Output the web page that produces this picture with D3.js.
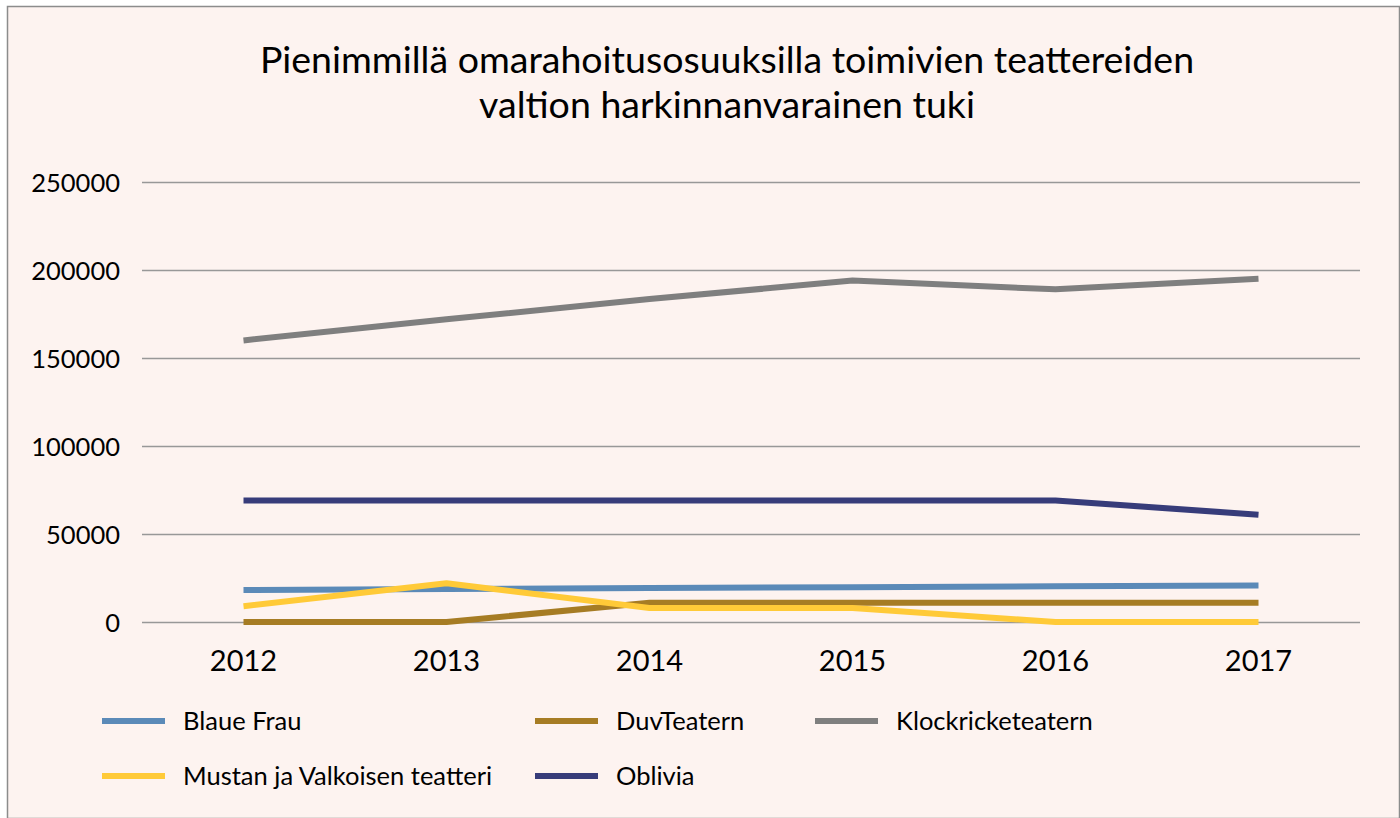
<!DOCTYPE html>
<html>
<head>
<meta charset="utf-8">
<script src="https://cdn.jsdelivr.net/npm/d3@7"></script>
<style>
  body { margin: 0; background: #fff; }
  svg { display: block; }
  text { font-family: Lato, "Open Sans", sans-serif; fill: #000; }
</style>
</head>
<body>
<script>
// data
var years = ["2012", "2013", "2014", "2015", "2016", "2017"];
var seriesNames = ["Blaue Frau", "DuvTeatern", "Klockricketeatern", "Mustan ja Valkoisen teatteri", "Oblivia"];
var blaueFrau = [18200, 18800, 19300, 19800, 20300, 20800];
var duvTeatern = [0, 0, 11000, 11000, 11000, 11000];
var klockricketeatern = [160000, 172000, 183500, 194000, 189000, 195000];
var mustanJaValkoisen = [9000, 22000, 8000, 8000, 0, 0];
var oblivia = [69000, 69000, 69000, 69000, 69000, 61000];
var yTicks = [0, 50000, 100000, 150000, 200000, 250000];
var titleLines = ["Pienimmillä omarahoitusosuuksilla toimivien teattereiden", "valtion harkinnanvarainen tuki"];

var colors = ["#5b8ab8", "#a67c24", "#7f7f7f", "#ffca38", "#373c7a"];
var allValues = [blaueFrau, duvTeatern, klockricketeatern, mustanJaValkoisen, oblivia];

var W = 1400, H = 818;
var plot = {left: 142, right: 1360, top: 182, bottom: 622};

var svg = d3.select("body").append("svg")
    .attr("width", W)
    .attr("height", H);

// background + border
svg.append("rect")
    .attr("x", 7.5).attr("y", 6.5)
    .attr("width", W - 8).attr("height", H - 6)
    .attr("fill", "#fdf3f0")
    .attr("stroke", "#8c8c8c")
    .attr("stroke-width", 1.5);

// title
svg.append("text")
    .attr("text-anchor", "middle")
    .style("font-size", "37.5px")
    .selectAll("tspan")
    .data(titleLines)
  .enter().append("tspan")
    .attr("x", 727)
    .attr("y", function(d, i) { return 73 + i * 45; })
    .text(function(d) { return d; });

// scales
var x = d3.scaleBand()
    .domain(years)
    .range([plot.left, plot.right]);

var y = d3.scaleLinear()
    .domain([0, 250000])
    .range([plot.bottom, plot.top]);

// gridlines + y labels
var yAxis = d3.axisLeft(y)
    .tickValues(yTicks)
    .tickSize(-(plot.right - plot.left))
    .tickPadding(22)
    .tickFormat(d3.format("d"));

var gy = svg.append("g")
    .attr("transform", "translate(" + plot.left + ",0)")
    .call(yAxis);
gy.select(".domain").remove();
gy.selectAll(".tick line")
    .attr("stroke", "#989898")
    .attr("stroke-width", 1.5);
gy.selectAll(".tick text")
    .style("font-size", "25.5px")
    .style("font-family", "Lato, sans-serif")
    .attr("fill", "#000")
    .attr("dy", "0.38em");

// x labels
var xAxis = d3.axisBottom(x).tickSize(0).tickPadding(28);
var gx = svg.append("g")
    .attr("transform", "translate(0," + plot.bottom + ")")
    .call(xAxis);
gx.select(".domain").remove();
gx.selectAll(".tick text")
    .style("font-size", "29px")
    .style("font-family", "Lato, sans-serif")
    .attr("fill", "#000");

// lines
var line = d3.line()
    .x(function(d, i) { return x(years[i]) + x.bandwidth() / 2; })
    .y(function(d) { return y(d); });

svg.append("g").selectAll("path")
    .data(allValues)
  .enter().append("path")
    .attr("d", line)
    .attr("fill", "none")
    .attr("stroke", function(d, i) { return colors[i]; })
    .attr("stroke-width", 6)
    .attr("stroke-linejoin", "round");

// legend
var legendPos = [[102, 721], [535, 721], [815, 721], [102, 776], [535, 776]];
var lg = svg.append("g").selectAll("g")
    .data(seriesNames)
  .enter().append("g")
    .attr("transform", function(d, i) { return "translate(" + legendPos[i][0] + "," + legendPos[i][1] + ")"; });

lg.append("line")
    .attr("x1", 0).attr("x2", 63)
    .attr("stroke", function(d, i) { return colors[i]; })
    .attr("stroke-width", 6);

lg.append("text")
    .attr("x", 81)
    .attr("dy", "0.35em")
    .style("font-size", "25.5px")
    .text(function(d) { return d; });
</script>
</body>
</html>
